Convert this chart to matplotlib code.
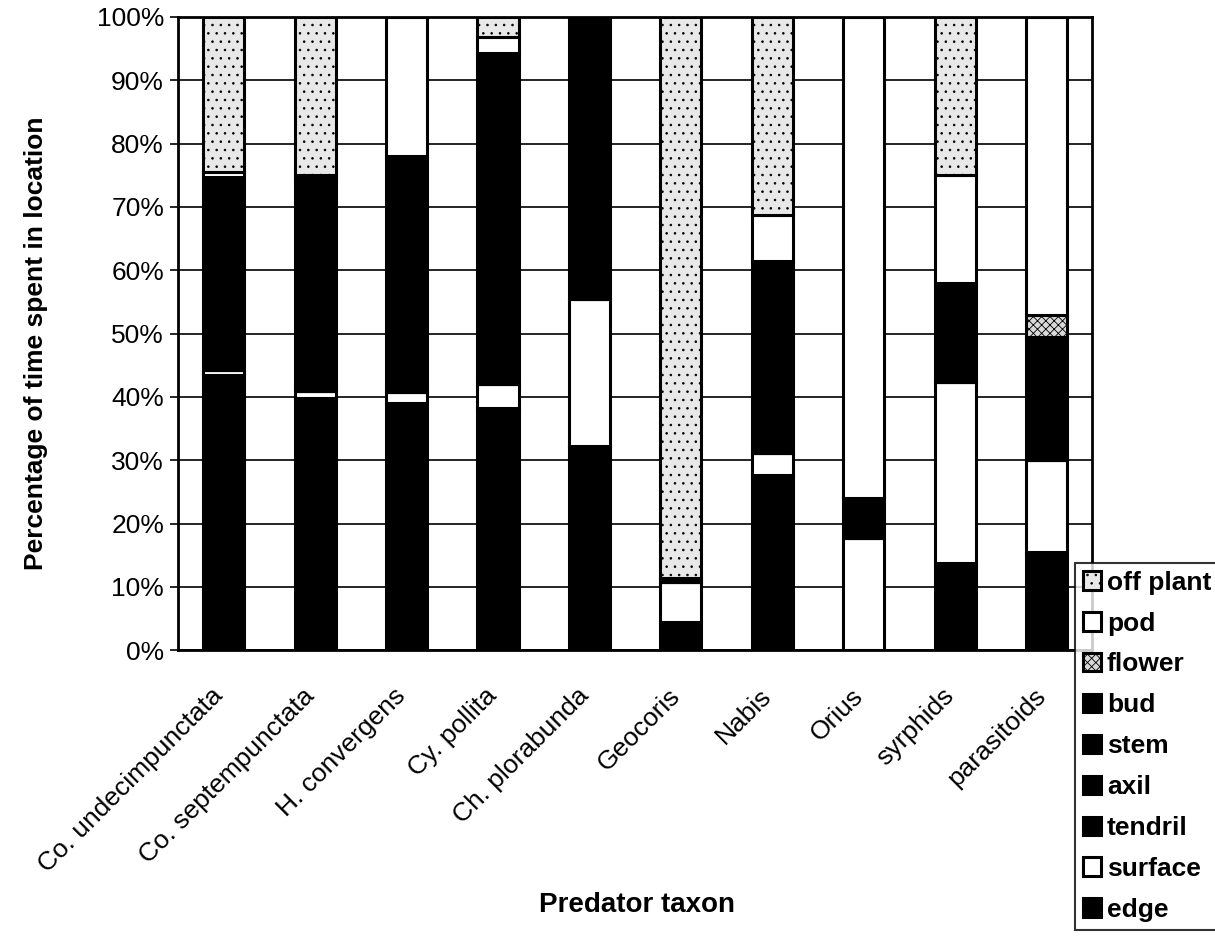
import matplotlib
matplotlib.use("Agg")
import matplotlib.pyplot as plt
import matplotlib.transforms as mtransforms
import numpy as np

plt.rcParams['font.family'] = ['Liberation Sans', 'DejaVu Sans']
plt.rcParams['hatch.linewidth'] = 0.6

taxa = ["Co. undecimpunctata", "Co. septempunctata", "H. convergens", "Cy. pollita",
        "Ch. plorabunda", "Geocoris", "Nabis", "Orius", "syrphids", "parasitoids"]

# percent of time in each location (bottom to top of stack)
edge = [43.5, 39.8, 39.1, 38.2, 32.2, 4.5, 27.7, 0.0, 13.8, 15.5]
surface = [0.8, 1.1, 1.6, 3.8, 23.3, 6.3, 3.5, 17.8, 28.5, 14.5]
tendril = [0, 0, 0, 0, 0, 0, 0, 0, 0, 0]
axil = [0, 0, 0, 0, 0, 0, 0, 0, 0, 0]
stem = [30.4, 34.1, 37.3, 52.3, 44.5, 0.6, 30.3, 6.3, 15.7, 19.5]
bud = [0, 0, 0, 0, 0, 0, 0, 0, 0, 0]
flower = [0, 0, 0, 0, 0, 0, 0, 0, 0, 3.5]
pod = [0.8, 0.0, 22.0, 2.5, 0.0, 0.0, 7.2, 75.9, 17.0, 47.0]
off_plant = [24.5, 25.0, 0.0, 3.2, 0.0, 88.6, 31.3, 0.0, 25.0, 0.0]

series = [
    ("edge", edge, "black", None),
    ("surface", surface, "white", None),
    ("tendril", tendril, "black", None),
    ("axil", axil, "black", None),
    ("stem", stem, "black", None),
    ("bud", bud, "black", None),
    ("flower", flower, "#d9d9d9", "xxxx"),
    ("pod", pod, "white", None),
    ("off plant", off_plant, "#e8e8e8", ".."),
]

fig = plt.figure(figsize=(12.15, 9.41), dpi=100)
ax = fig.add_axes([0.1465, 0.309, 0.7525, 0.673])

x = np.arange(len(taxa))
bottom = np.zeros(len(taxa))
handles = []
for name, vals, col, hatch in series:
    vals = np.array(vals, dtype=float)
    b = ax.bar(x, vals, 0.45, bottom=bottom, color=col, edgecolor="black",
               linewidth=2.2, hatch=hatch, label=name, zorder=3)
    handles.append(b)
    bottom += vals

ax.set_xlim(-0.5, len(taxa) - 0.5)
ax.set_ylim(0, 100)
ax.set_yticks(np.arange(0, 101, 10))
ax.set_yticklabels([f"{v}%" for v in range(0, 101, 10)], fontsize=19)
ax.yaxis.grid(True, color="black", linewidth=1.2, zorder=0)
ax.set_axisbelow(True)
ax.tick_params(axis="y", length=6, width=1.2, pad=4)
ax.tick_params(axis="x", length=0, pad=24)
ax.set_xticks(x)
ax.set_xticklabels(taxa, rotation=45, ha="right", rotation_mode="anchor", fontsize=19)
shift = mtransforms.ScaledTranslation(-13 / 100, 0, fig.dpi_scale_trans)
for lbl in ax.get_xticklabels():
    lbl.set_transform(lbl.get_transform() + shift)
for s in ax.spines.values():
    s.set_linewidth(2)

fig.text(0.030, 0.635, "Percentage of time spent in location", fontsize=19, fontweight="bold",
         rotation=90, ha="center", va="center")
fig.text(0.524, 0.038, "Predator taxon", fontsize=20, fontweight="bold", ha="center", va="center")

leg = fig.legend(handles[::-1], [s[0] for s in series][::-1], loc="upper left",
                 bbox_to_anchor=(0.874, 0.416), prop={"size": 19, "weight": "bold"},
                 frameon=True, handlelength=0.7, handleheight=0.7, handletextpad=0.2,
                 labelspacing=0.64, borderpad=0.3, fancybox=False)
leg.get_frame().set_edgecolor("black")
leg.get_frame().set_linewidth(1.5)

fig.savefig("out.png", dpi=100)
